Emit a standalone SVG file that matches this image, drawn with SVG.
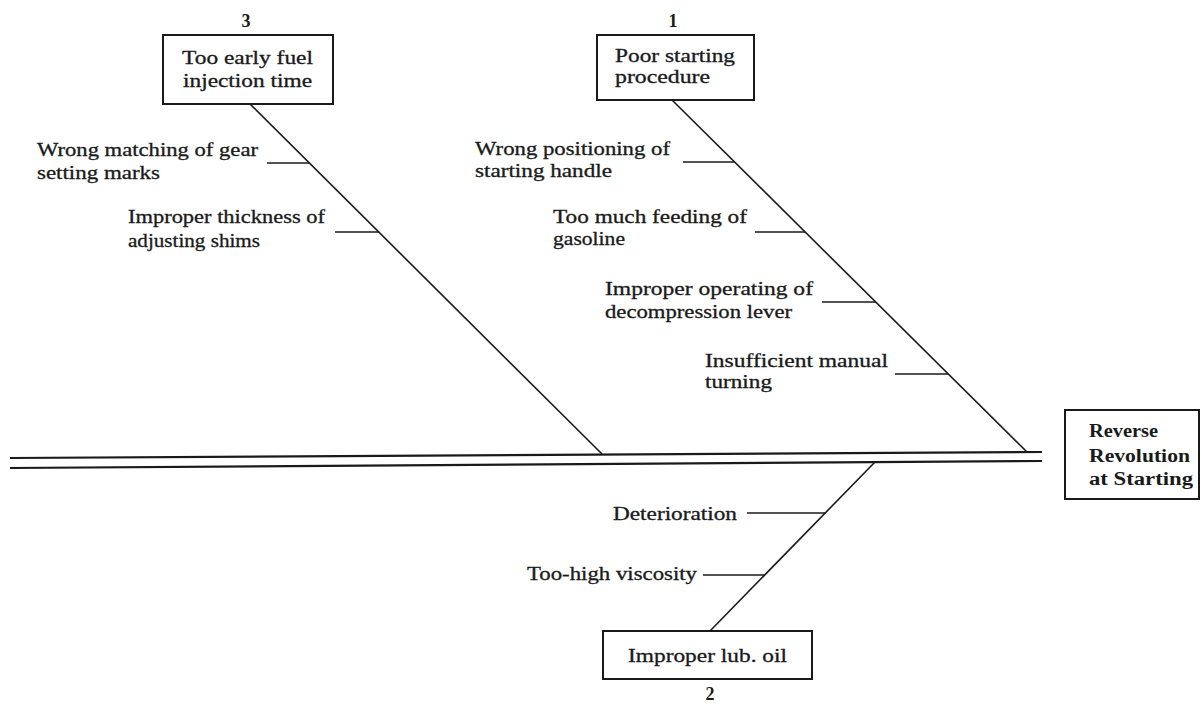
<svg xmlns="http://www.w3.org/2000/svg" width="1202" height="708" viewBox="0 0 1202 708">
<style>
.t{font-family:"Liberation Serif","Times New Roman",serif;font-size:18px;fill:#1a1a1a;stroke:#1a1a1a;stroke-width:0.3}
.b{font-weight:bold;stroke-width:0}
.n{font-family:"Liberation Serif","Times New Roman",serif;font-size:18px;font-weight:bold;fill:#1a1a1a;text-anchor:middle}
.box{fill:#fff;stroke:#1a1a1a;stroke-width:2}
.ln{stroke:#1a1a1a;stroke-width:1.6;fill:none}
.main{stroke:#1a1a1a;stroke-width:2.2;fill:none}
</style>
<rect width="1202" height="708" fill="#fff"/>
<g id="connectors">
<line class="main" x1="10" y1="458" x2="1042" y2="452"/>
<line class="main" x1="10" y1="468" x2="1042" y2="461"/>
<line class="ln" x1="250" y1="104" x2="602" y2="454"/>
<line class="ln" x1="672" y1="100" x2="1027" y2="452"/>
<line class="ln" x1="875" y1="462" x2="710" y2="631"/>
<line class="ln" x1="267" y1="163" x2="309" y2="163"/>
<line class="ln" x1="335" y1="232" x2="379" y2="232"/>
<line class="ln" x1="683" y1="162" x2="735" y2="162"/>
<line class="ln" x1="755" y1="232" x2="805" y2="232"/>
<line class="ln" x1="822" y1="302" x2="876" y2="302"/>
<line class="ln" x1="895" y1="374" x2="948" y2="374"/>
<line class="ln" x1="747" y1="513" x2="825" y2="513"/>
<line class="ln" x1="703" y1="575" x2="765" y2="575"/>
</g>
<g id="cause3">
<text class="n" x="246" y="27">3</text>
<rect class="box" x="163" y="35" width="170" height="69"/>
<text class="t" x="182" y="64" textLength="131" lengthAdjust="spacingAndGlyphs">Too early fuel</text>
<text class="t" x="183" y="87" textLength="129" lengthAdjust="spacingAndGlyphs">injection time</text>
</g>
<g id="sub3a">
<text class="t" x="37" y="156" textLength="221" lengthAdjust="spacingAndGlyphs">Wrong matching of gear</text>
<text class="t" x="37" y="179" textLength="123" lengthAdjust="spacingAndGlyphs">setting marks</text>
</g>
<g id="sub3b">
<text class="t" x="128" y="223" textLength="197" lengthAdjust="spacingAndGlyphs">Improper thickness of</text>
<text class="t" x="128" y="247" textLength="132" lengthAdjust="spacingAndGlyphs">adjusting shims</text>
</g>
<g id="cause1">
<text class="n" x="673" y="27">1</text>
<rect class="box" x="597" y="35" width="157" height="65"/>
<text class="t" x="615" y="62" textLength="120" lengthAdjust="spacingAndGlyphs">Poor starting</text>
<text class="t" x="615" y="83" textLength="95" lengthAdjust="spacingAndGlyphs">procedure</text>
</g>
<g id="sub1a">
<text class="t" x="475" y="155" textLength="195" lengthAdjust="spacingAndGlyphs">Wrong positioning of</text>
<text class="t" x="475" y="177" textLength="137" lengthAdjust="spacingAndGlyphs">starting handle</text>
</g>
<g id="sub1b">
<text class="t" x="553" y="223" textLength="194" lengthAdjust="spacingAndGlyphs">Too much feeding of</text>
<text class="t" x="553" y="245" textLength="72" lengthAdjust="spacingAndGlyphs">gasoline</text>
</g>
<g id="sub1c">
<text class="t" x="605" y="295" textLength="208" lengthAdjust="spacingAndGlyphs">Improper operating of</text>
<text class="t" x="605" y="318" textLength="187" lengthAdjust="spacingAndGlyphs">decompression lever</text>
</g>
<g id="sub1d">
<text class="t" x="705" y="367" textLength="183" lengthAdjust="spacingAndGlyphs">Insufficient manual</text>
<text class="t" x="705" y="388" textLength="67" lengthAdjust="spacingAndGlyphs">turning</text>
</g>
<g id="effect">
<rect class="box" x="1065" y="410" width="134" height="89"/>
<text class="t b" x="1089" y="437" textLength="69" lengthAdjust="spacingAndGlyphs">Reverse</text>
<text class="t b" x="1089" y="462" textLength="101" lengthAdjust="spacingAndGlyphs">Revolution</text>
<text class="t b" x="1089" y="485" textLength="104" lengthAdjust="spacingAndGlyphs">at Starting</text>
</g>
<g id="sub2a">
<text class="t" x="613" y="520" textLength="124" lengthAdjust="spacingAndGlyphs">Deterioration</text>
</g>
<g id="sub2b">
<text class="t" x="527" y="580" textLength="170" lengthAdjust="spacingAndGlyphs">Too-high viscosity</text>
</g>
<g id="cause2">
<rect class="box" x="603" y="631" width="209" height="48"/>
<text class="t" x="628" y="662" textLength="159" lengthAdjust="spacingAndGlyphs">Improper lub. oil</text>
<text class="n" x="710" y="700">2</text>
</g>
</svg>
